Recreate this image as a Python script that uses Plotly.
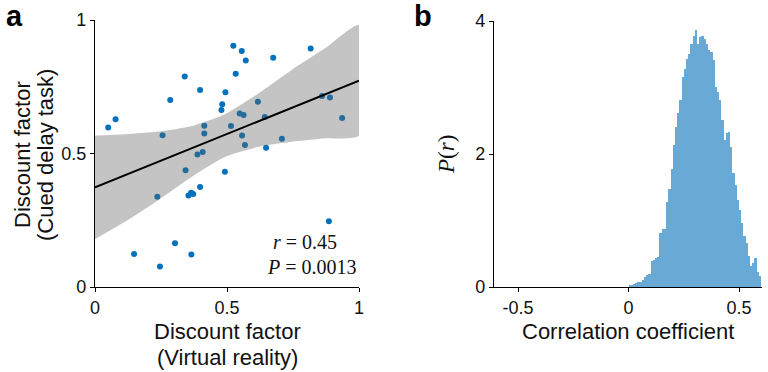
import plotly.graph_objects as go

# ---- Panel a data: discount factors ----
vr_discount = [0.050, 0.078, 0.256, 0.285, 0.340, 0.398, 0.414, 0.414, 0.388, 0.408,
               0.343, 0.236, 0.354, 0.364, 0.372, 0.398, 0.492, 0.524, 0.556, 0.571,
               0.533, 0.494, 0.482, 0.479, 0.515, 0.548, 0.563, 0.557, 0.568, 0.617,
               0.643, 0.648, 0.675, 0.708, 0.817, 0.860, 0.890, 0.936, 0.886, 0.303,
               0.148, 0.365, 0.246]
cued_discount = [0.597, 0.628, 0.568, 0.700, 0.788, 0.738, 0.604, 0.575, 0.496, 0.506,
                 0.437, 0.338, 0.343, 0.353, 0.348, 0.375, 0.432, 0.904, 0.884, 0.848,
                 0.799, 0.729, 0.684, 0.663, 0.603, 0.650, 0.644, 0.567, 0.532, 0.694,
                 0.637, 0.522, 0.859, 0.555, 0.893, 0.715, 0.710, 0.633, 0.246, 0.164,
                 0.124, 0.122, 0.077]

# regression line and confidence band
fit_x = [0.0, 1.0]
fit_y = [0.373, 0.773]
band_x = [0.0, 0.115, 0.241, 0.367, 0.494, 0.619, 0.745, 0.871, 1.0]
band_upper = [0.567, 0.572, 0.582, 0.603, 0.648, 0.725, 0.813, 0.894, 0.981]
band_lower = [0.179, 0.245, 0.326, 0.413, 0.488, 0.525, 0.544, 0.557, 0.567]

# ---- Panel b data: histogram of correlation coefficients ----
bin_width = 0.01
bin_left = [round(0.01 * k, 2) for k in range(60)]
density = [0.025, 0.025, 0.045, 0.055, 0.08, 0.08, 0.11, 0.15, 0.18, 0.20,
           0.39, 0.41, 0.43, 0.455, 0.81, 0.87, 0.87, 1.28, 1.48, 1.78,
           2.13, 2.41, 2.61, 2.81, 3.16, 3.28, 3.43, 3.51, 3.66, 3.78,
           3.86, 3.66, 3.76, 3.78, 3.73, 3.66, 3.56, 3.53, 3.41, 3.01,
           2.93, 2.81, 2.51, 2.21, 2.32, 2.33, 2.11, 1.71, 1.53, 1.31,
           1.16, 0.96, 0.76, 0.66, 0.46, 0.31, 0.36, 0.43, 0.23, 0.16]

W, H = 768, 372
SANS = "Liberation Sans, Arial, sans-serif"
SERIF = "Liberation Serif, Times New Roman, serif"
TXT = "#111111"

def px_x(p):
    return p / W

def px_y(p):
    return (H - p) / H

fig = go.Figure()

fig.add_trace(go.Scatter(x=vr_discount, y=cued_discount, mode="markers",
                         marker=dict(size=6, color="#0072bd"),
                         xaxis="x", yaxis="y", showlegend=False, hoverinfo="skip"))
fig.add_trace(go.Scatter(x=band_x + band_x[::-1], y=band_upper + band_lower[::-1],
                         mode="lines", fill="toself",
                         fillcolor="rgba(100,100,100,0.38)",
                         line=dict(width=0, shape="spline", smoothing=0.6),
                         xaxis="x", yaxis="y", showlegend=False, hoverinfo="skip"))
fig.add_trace(go.Scatter(x=fit_x, y=fit_y, mode="lines",
                         line=dict(color="black", width=2),
                         xaxis="x", yaxis="y", showlegend=False, hoverinfo="skip"))

centers = [b + bin_width / 2 for b in bin_left]
fig.add_trace(go.Bar(x=centers, y=density, width=bin_width,
                     marker=dict(color="#68a9d6", line=dict(width=0)),
                     xaxis="x2", yaxis="y2", showlegend=False, hoverinfo="skip"))

axis_common = dict(showgrid=False, zeroline=False, showline=True, linecolor="black",
                   linewidth=1.3, ticks="outside", ticklen=4, tickwidth=1.2,
                   tickcolor="black", automargin=False,
                   tickfont=dict(family=SANS, size=18, color=TXT))

fig.update_layout(
    width=W, height=H, margin=dict(l=0, r=0, t=0, b=0, autoexpand=False),
    paper_bgcolor="white", plot_bgcolor="white", bargap=0,
    xaxis=dict(domain=[px_x(95), px_x(359)], range=[0, 1], tickvals=[0, 0.5, 1],
               ticktext=["0", "0.5", "1"], anchor="y", **axis_common),
    yaxis=dict(domain=[px_y(287), px_y(20)], range=[0, 1], tickvals=[0, 0.5, 1],
               ticktext=["0", "0.5", "1"], anchor="x", **axis_common),
    xaxis2=dict(domain=[px_x(494), px_x(762)], range=[-0.609, 0.604],
                tickvals=[-0.5, 0, 0.5], ticktext=["-0.5", "0", "0.5"],
                anchor="y2", **axis_common),
    yaxis2=dict(domain=[px_y(287), px_y(21)], range=[0, 4], tickvals=[0, 2, 4],
                anchor="x2", **axis_common),
)

ann = [
    dict(text="<b>a</b>", x=px_x(14), y=px_y(16), font=dict(family=SANS, size=29, color="black")),
    dict(text="<b>b</b>", x=px_x(423), y=px_y(16), font=dict(family=SANS, size=29, color="black")),
    dict(text="Discount factor", x=px_x(22), y=px_y(155), textangle=-90,
         font=dict(family=SANS, size=22, color=TXT)),
    dict(text="(Cued delay task)", x=px_x(45), y=px_y(155), textangle=-90,
         font=dict(family=SANS, size=22, color=TXT)),
    dict(text="Discount factor", x=px_x(227), y=px_y(331),
         font=dict(family=SANS, size=22, color=TXT)),
    dict(text="(Virtual reality)", x=px_x(227), y=px_y(357),
         font=dict(family=SANS, size=22, color=TXT)),
    dict(text="Correlation coefficient", x=px_x(628), y=px_y(331),
         font=dict(family=SANS, size=22, color=TXT)),
    dict(text="<i>P</i>(<i>r</i>)", x=px_x(446), y=px_y(155), textangle=-90,
         font=dict(family=SERIF, size=23, color=TXT)),
    dict(text="<i>r</i> = 0.45", x=px_x(339), y=px_y(242), xanchor="right",
         font=dict(family=SERIF, size=20, color=TXT)),
    dict(text="<i>P</i> = 0.0013", x=px_x(359), y=px_y(267), xanchor="right",
         font=dict(family=SERIF, size=20, color=TXT)),
]
for a in ann:
    a.setdefault("xanchor", "center")
    a.update(xref="paper", yref="paper", showarrow=False, yanchor="middle")
    fig.add_annotation(**a)

fig.write_html("out.html", config={"displayModeBar": False},
               post_script="document.body.style.margin='0';")
